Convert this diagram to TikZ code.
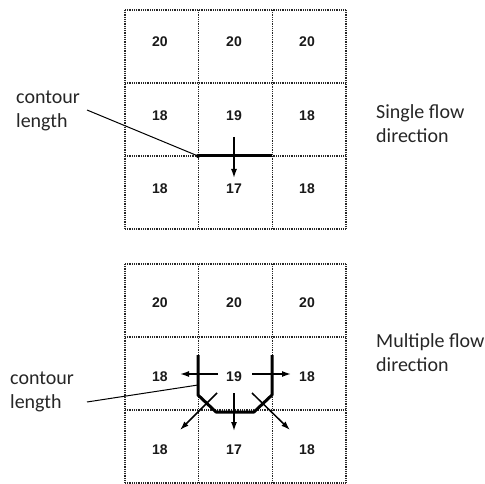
\documentclass[tikz,border=0pt]{standalone}
\usepackage{fontspec}
\setmainfont{Carlito}
\newfontfamily\numfont{Liberation Sans}
\usetikzlibrary{arrows.meta}
\tikzset{
  gridline/.style={line width=1.1pt, dash pattern=on 1pt off 0.8pt, black!85},
  cellnum/.style={font=\numfont\bfseries\fontsize{14}{14}\selectfont, text=black!90},
  sidetext/.style={font=\fontsize{20}{24}\selectfont, align=left, text=black!85, inner sep=0pt, anchor=west},
  contour/.style={line width=3pt},
  flow/.style={line width=1.5pt, -{Latex[length=9pt,width=6pt]}},
  leader/.style={line width=1pt},
}
\begin{document}
\begin{tikzpicture}[x=1pt, y=-1pt]
\useasboundingbox (0,0) rectangle (485,484);
% grids
\foreach \top in {10, 264} {
  \foreach \k in {0,...,3} {
    \draw[gridline] (125+73.67*\k, \top) -- (125+73.67*\k, \top+219);
    \draw[gridline] (125, \top+73*\k) -- (346, \top+73*\k);
  }
}
% top: single flow direction
\node[cellnum] (a11) at (160,42) {20};
\node[cellnum] (a12) at (234,42) {20};
\node[cellnum] (a13) at (307,42) {20};
\node[cellnum] (a21) at (160,116) {18};
\node[cellnum] (a22) at (234,116) {19};
\node[cellnum] (a23) at (307,116) {18};
\node[cellnum] (a31) at (160,189) {18};
\node[cellnum] (a32) at (234,189) {17};
\node[cellnum] (a33) at (307,189) {18};
\coordinate (acl) at (198,156);
\coordinate (acr) at (272,156);
\coordinate (afrom) at (234,137);
\coordinate (ato) at (234,178);
\draw[contour] (acl) -- (acr);
\draw[flow] (afrom) -- (ato);
\fill (acl) circle (2pt);
\node[sidetext] (alabel) at (16,111) {contour\\length};
\coordinate (alead) at (87,110);
\draw[leader] (alead) -- (acl);
\node[sidetext] (atitle) at (376,124) {Single flow\\direction};
% bottom: multiple flow direction
\node[cellnum] (b11) at (160,303) {20};
\node[cellnum] (b12) at (234,303) {20};
\node[cellnum] (b13) at (307,303) {20};
\node[cellnum] (b21) at (160,377) {18};
\node[cellnum] (b22) at (234,377) {19};
\node[cellnum] (b23) at (307,377) {18};
\node[cellnum] (b31) at (160,450) {18};
\node[cellnum] (b32) at (234,450) {17};
\node[cellnum] (b33) at (307,450) {18};
\coordinate (c1) at (198,355);
\coordinate (c2) at (198,395);
\coordinate (c3) at (216,412);
\coordinate (c4) at (254,412);
\coordinate (c5) at (272,395);
\coordinate (c6) at (272,355);
\draw[contour, line join=round] (c1) -- (c2) -- (c3) -- (c4) -- (c5) -- (c6);
\draw[flow] (218,374) -- (180,374);
\draw[flow] (252,374) -- (291,374);
\draw[flow] (234,393) -- (234,431);
\draw[flow] (217,393) -- (180,430);
\draw[flow] (252,393) -- (290,430);
\node[sidetext] (blabel) at (10,392) {contour\\length};
\coordinate (blead) at (87,402);
\coordinate (bhit) at (198,385);
\draw[leader] (blead) -- (bhit);
\node[sidetext] (btitle) at (376,353) {Multiple flow\\direction};
\end{tikzpicture}
\end{document}
